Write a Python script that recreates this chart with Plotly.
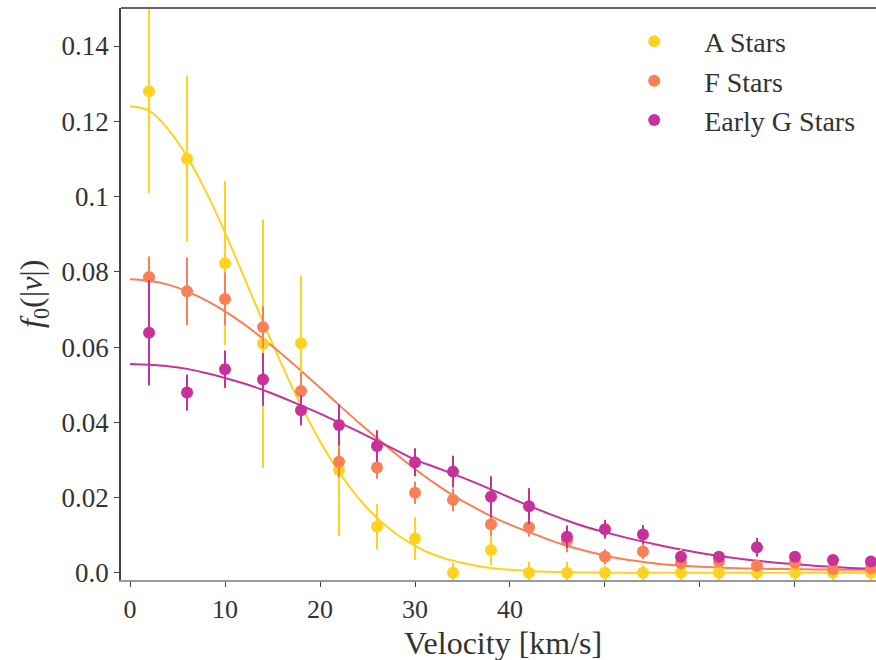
import plotly.graph_objects as go

# ---- data ----
V_POINTS = [2, 6, 10, 14, 18, 22, 26, 30, 34, 38, 42, 46, 50, 54, 58, 62, 66, 70, 74, 78]

A_Y = [0.128, 0.110, 0.0823, 0.0609, 0.061, 0.0273, 0.0123, 0.0091, 0.0, 0.0061,
       0.0, 0.0, 0.0, 0.0, 0.0, 0.0, 0.0, 0.0, 0.0, 0.0]
A_ERR = [0.027, 0.022, 0.0218, 0.033, 0.018, 0.0175, 0.006, 0.0057, 0.0026, 0.004,
         0.003, 0.003, 0.002, 0.002, 0.0065, 0.002, 0.002, 0.002, 0.002, 0.002]

F_Y = [0.0786, 0.0748, 0.0728, 0.0653, 0.0483, 0.0295, 0.0280, 0.0213, 0.0194, 0.0129,
       0.0121, 0.0085, 0.0043, 0.0057, 0.0026, 0.0030, 0.0019, 0.0027, 0.0010, 0.0012]
F_ERR = [0.0055, 0.009, 0.007, 0.0055, 0.005, 0.004, 0.003, 0.003, 0.003, 0.003,
         0.0025, 0.003, 0.002, 0.002, 0.0015, 0.0015, 0.0015, 0.0015, 0.001, 0.001]

G_Y = [0.0638, 0.0479, 0.0541, 0.0514, 0.0432, 0.0393, 0.0337, 0.0294, 0.0269, 0.0202,
       0.0177, 0.0096, 0.0116, 0.0102, 0.0043, 0.0043, 0.0068, 0.0043, 0.0034, 0.0030]
G_ERR = [0.014, 0.0048, 0.005, 0.007, 0.004, 0.0055, 0.0042, 0.0037, 0.0042, 0.0055,
         0.0048, 0.003, 0.0025, 0.0025, 0.0015, 0.0015, 0.0025, 0.0015, 0.0012, 0.0012]

V_CURVE = [0, 2, 4, 6, 8, 10, 12, 14, 16, 18, 20, 22, 24, 26, 28, 30, 32, 34, 36, 38,
           40, 42, 44, 46, 48, 50, 52, 54, 56, 58, 60, 62, 64, 66, 68, 70, 72, 74, 76, 78]

A_FIT = [0.1240, 0.1228, 0.1179, 0.1106, 0.1013, 0.0904, 0.0786, 0.0667, 0.0552, 0.0445,
         0.0350, 0.0268, 0.0200, 0.0146, 0.0104, 0.0072, 0.0048, 0.0032, 0.0021, 0.0013,
         0.0008, 0.0005, 0.0003, 0.0002, 0.0001, 0.0001, 0.0, 0.0, 0.0, 0.0,
         0.0, 0.0, 0.0, 0.0, 0.0, 0.0, 0.0, 0.0, 0.0, 0.0]
F_FIT = [0.0780, 0.0776, 0.0766, 0.0748, 0.0724, 0.0695, 0.0661, 0.0622, 0.0581, 0.0537,
         0.0492, 0.0446, 0.0401, 0.0358, 0.0316, 0.0276, 0.0239, 0.0206, 0.0177, 0.0151,
         0.0128, 0.0108, 0.0089, 0.0072, 0.0058, 0.0046, 0.0036, 0.0029, 0.0023, 0.0019,
         0.0016, 0.0014, 0.0012, 0.0011, 0.0010, 0.0010, 0.0009, 0.0009, 0.0008, 0.0008]
G_FIT = [0.0555, 0.0553, 0.0549, 0.0542, 0.0531, 0.0518, 0.0503, 0.0486, 0.0466, 0.0445,
         0.0423, 0.0400, 0.0376, 0.0351, 0.0326, 0.0301, 0.0282, 0.0263, 0.0243, 0.0222,
         0.0200, 0.0178, 0.0158, 0.0139, 0.0122, 0.0108, 0.0095, 0.0083, 0.0072, 0.0062,
         0.0053, 0.0045, 0.0038, 0.0032, 0.0027, 0.0023, 0.0019, 0.0016, 0.0013, 0.0011]

SERIES = [
    ("A Stars", A_Y, A_ERR, A_FIT, "#FFD21F"),
    ("F Stars", F_Y, F_ERR, F_FIT, "#F97F55"),
    ("Early G Stars", G_Y, G_ERR, G_FIT, "#C7319A"),
]

X_TICKS = [0, 10, 20, 30, 40]
X_TICKTEXT = ["0", "10", "20", "30", "40"]
X_UNLABELLED_TICKS = [50, 60, 70]
Y_TICKS = [0.0, 0.02, 0.04, 0.06, 0.08, 0.10, 0.12, 0.14]
Y_TICKTEXT = ["0.0", "0.02", "0.04", "0.06", "0.08", "0.1", "0.12", "0.14"]

FONT = "Liberation Serif"

fig = go.Figure()

for name, y, err, fit, col in SERIES:
    fig.add_trace(go.Scatter(
        x=V_CURVE, y=fit, mode="lines", line=dict(color=col, width=2, shape="spline"),
        showlegend=False, hoverinfo="skip"))

for name, y, err, fit, col in SERIES:
    fig.add_trace(go.Scatter(
        x=V_POINTS, y=y, mode="markers", name=name,
        marker=dict(color=col, size=12),
        error_y=dict(type="data", array=err, color=col, thickness=2, width=0)))

fig.update_layout(
    width=876, height=660,
    margin=dict(l=121, r=0, t=8, b=80),
    paper_bgcolor="white", plot_bgcolor="white",
    font=dict(family=FONT, color="#333333", size=26),
    showlegend=True,
    legend=dict(x=0.64, y=0.985, xanchor="left", yanchor="top",
                font=dict(family=FONT, size=28, color="#333333"),
                itemwidth=90, bgcolor="rgba(255,255,255,0.8)", tracegroupgap=0),
    xaxis=dict(range=[-0.95, 78.53], tickmode="array", tickvals=X_TICKS, ticktext=X_TICKTEXT,
               showgrid=False, zeroline=False, showline=True, linecolor="#9a9a9a",
               linewidth=2, ticks="outside", ticklen=5, tickwidth=1.3, tickcolor="#444444",
               minor=dict(tickmode="array", tickvals=X_UNLABELLED_TICKS, ticks="outside",
                          ticklen=5, tickwidth=1.3, tickcolor="#444444", showgrid=False),
               ticklabelstandoff=0, tickfont=dict(size=26, family=FONT, color="#333333")),
    yaxis=dict(range=[-0.0019, 0.1501], tickvals=Y_TICKS, ticktext=Y_TICKTEXT,
               showgrid=False, zeroline=False, showline=True, linecolor="#444444",
               linewidth=1.5, ticks="outside", ticklen=5, tickwidth=1.3, tickcolor="#444444",
               ticklabelstandoff=0, tickfont=dict(size=27, family=FONT, color="#333333")),
    shapes=[dict(type="line", xref="paper", yref="paper", x0=0, x1=1, y0=1, y1=1,
                 line=dict(color="#666666", width=2))],
    annotations=[
        dict(text="Velocity [km/s]", xref="paper", yref="paper",
             x=(503 - 121) / 755, y=-(643 - 580) / 572, xanchor="center", yanchor="middle",
             showarrow=False, font=dict(family=FONT, size=32, color="#333333")),
        dict(text="<i>f</i><sub>0</sub>(|<i>v</i>|)", xref="paper", yref="paper",
             x=-(121 - 33) / 755, y=0.5, xanchor="center", yanchor="middle",
             textangle=-90, showarrow=False,
             font=dict(family=FONT, size=32, color="#333333")),
    ],
)

fig.write_html("out.html")
